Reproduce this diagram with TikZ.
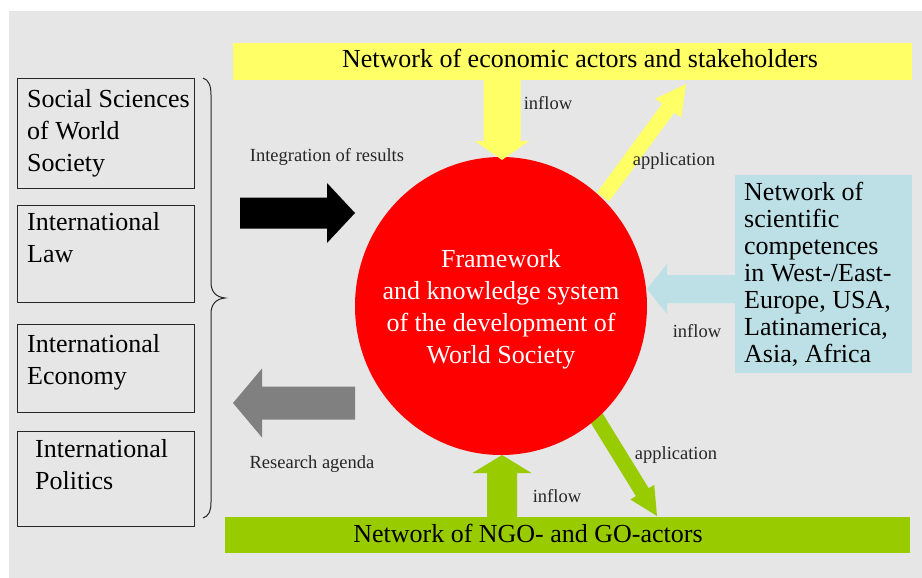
\documentclass[tikz,border=0pt]{standalone}
\usepackage{fontspec}
\setmainfont{LiberationSerif}[Extension=.ttf, UprightFont=*-Regular, BoldFont=*-Bold, ItalicFont=*-Italic]
\usetikzlibrary{calc,shapes.geometric}
\definecolor{bgc}{RGB}{230,230,230}
\definecolor{ylw}{RGB}{255,255,102}
\definecolor{grn}{RGB}{153,204,0}
\definecolor{lblue}{RGB}{189,224,230}
\definecolor{garr}{RGB}{128,128,128}
\definecolor{boxline}{RGB}{40,40,40}
\newcommand\blkarrow[6]{%
  \coordinate (tmpH) at ($(#3)!#6!(#2)$);
  \fill[#1] ($(#2)!#4!90:(#3)$) -- ($(tmpH)!#4!-90:(#2)$) -- ($(tmpH)!#5!-90:(#2)$) -- (#3)
    -- ($(tmpH)!#5!90:(#2)$) -- ($(tmpH)!#4!90:(#2)$) -- ($(#2)!#4!-90:(#3)$) -- cycle;}
\tikzset{
  big/.style={font=\fontsize{26}{32}\selectfont, inner sep=0pt},
  small/.style={font=\fontsize{18.5}{22}\selectfont, inner sep=0pt, text=black!85, anchor=base},
  catbox/.style={draw=boxline, line width=1.1pt, anchor=north west, inner sep=0pt, minimum width=177pt},
  bar/.style={anchor=north west, inner sep=0pt}
}
\begin{document}
\begin{tikzpicture}[x=1pt,y=-1pt]
\useasboundingbox (0,0) rectangle (922,578);
\fill[bgc] (9,11) rectangle (922,578);

% bars
\node[bar, fill=ylw, minimum width=679pt, minimum height=37pt] (econ) at (233,43) {};
\node[bar, fill=grn, minimum width=685pt, minimum height=36pt] (ngo) at (225,517) {};
\node[big, anchor=base] (econt) at (580,68) {Network of economic actors and stakeholders};
\node[big, anchor=base] (ngot) at (528,542) {Network of NGO- and GO-actors};

% left boxes
\node[catbox, minimum height=110pt] (b1) at (17,78) {};
\node[catbox, minimum height=97pt] (b2) at (17,205) {};
\node[catbox, minimum height=88pt] (b3) at (17,324) {};
\node[catbox, minimum height=95pt] (b4) at (17,431) {};
\node[big, anchor=north west, align=left] (t1) at (27,89) {Social Sciences\\of World\\Society};
\node[big, anchor=north west, align=left] (t2) at (27,212) {International\\Law};
\node[big, anchor=north west, align=left] (t3) at (27,334) {International\\Economy};
\node[big, anchor=north west, align=left] (t4) at (35,439) {International\\Politics};

% brace
\draw[line width=1pt, black!85] (203,78) .. controls (209,80) and (211,86) .. (211,95) -- (211,282)
  .. controls (211,292) and (216,297) .. (225,298) .. controls (216,299) and (211,304) .. (211,314)
  -- (211,502) .. controls (211,511) and (209,516) .. (203,518);

% blue box
\node[bar, fill=lblue, minimum width=177pt, minimum height=198pt] (sci) at (735,175) {};
\node[anchor=north west, align=left, inner sep=0pt, font=\fontsize{26}{27}\selectfont] (scit) at (744,182)
  {Network of\\scientific\\competences\\in West-/East-\\Europe, USA,\\Latinamerica,\\Asia, Africa};

% application arrows (behind circle)
\coordinate (yaS) at (603,197); \coordinate (yaT) at (686,84);
\blkarrow{ylw}{yaS}{yaT}{7.5pt}{16pt}{30pt}
\coordinate (gaS) at (596,417); \coordinate (gaT) at (657,516);
\blkarrow{grn}{gaS}{gaT}{7.5pt}{14pt}{28pt}

% circle
\node[ellipse, fill=red, minimum width=292pt, minimum height=298pt, inner sep=0pt] (core) at (501,306) {};
\node[big, text=white, align=center, anchor=north] (coret) at (501,249.5)
  {Framework\\and knowledge system\\of the development of\\World Society};

% inflow / side arrows
\coordinate (blkS) at (240,213); \coordinate (blkT) at (355,213);
\blkarrow{black}{blkS}{blkT}{15.5pt}{30pt}{28pt}
\coordinate (grS) at (355,403); \coordinate (grT) at (233,403);
\blkarrow{garr}{grS}{grT}{16.5pt}{34.5pt}{29pt}
\coordinate (ydS) at (502,80); \coordinate (ydT) at (502,160);
\blkarrow{ylw}{ydS}{ydT}{18.5pt}{27pt}{19pt}
\coordinate (blS) at (735,289); \coordinate (blT) at (647,289);
\blkarrow{lblue}{blS}{blT}{14pt}{25pt}{20pt}
\coordinate (guS) at (502,517); \coordinate (guT) at (502,455);
\blkarrow{grn}{guS}{guT}{15pt}{29.5pt}{18pt}

% labels
\node[small] (lint) at (327,161) {Integration of results};
\node[small] (lres) at (312,468) {Research agenda};
\node[small] (lin1) at (548,110) {inflow};
\node[small] (lap1) at (674,165) {application};
\node[small] (lin2) at (697,337) {inflow};
\node[small] (lap2) at (676,459) {application};
\node[small] (lin3) at (557,502) {inflow};
\end{tikzpicture}
\end{document}
